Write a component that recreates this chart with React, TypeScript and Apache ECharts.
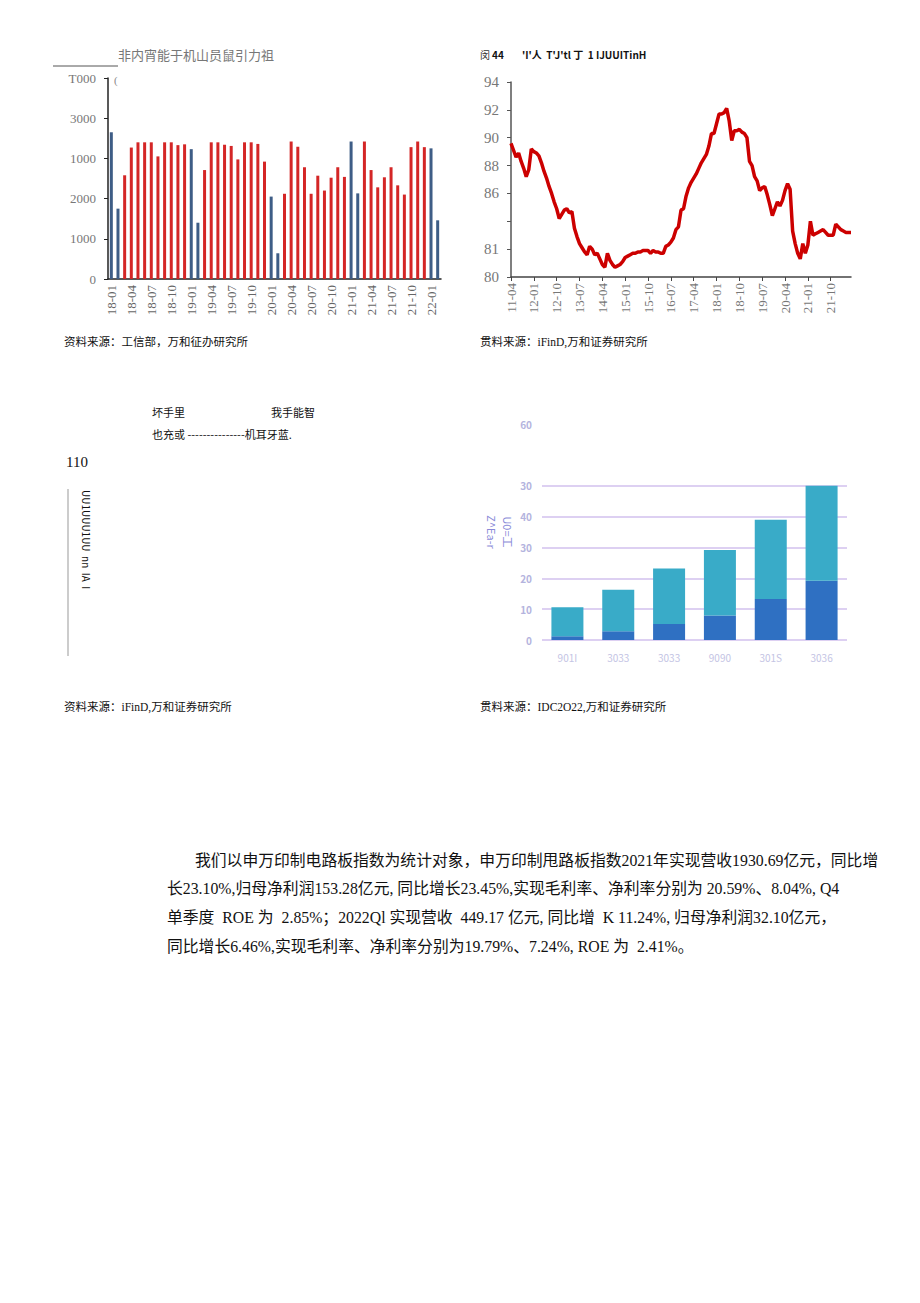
import React, { useEffect, useRef } from "react";
import * as echarts from "echarts";

// ---------- Left chart: monthly shipments ----------
const shipmentMonths: string[] = [];
for (let y = 18; y <= 22; y++) {
  for (let m = 1; m <= 12; m++) {
    if (y === 22 && m > 2) break;
    shipmentMonths.push(`${y}-${m < 10 ? "0" + m : m}`);
  }
}
const shipmentValues = [
  3650, 1750, 2580, 3270, 3400, 3400, 3400, 3050, 3400, 3400, 3330, 3350,
  3230, 1400, 2710, 3400, 3400, 3340, 3310, 2975, 3400, 3400, 3360, 2920,
  2050, 640, 2120, 3420, 3290, 2780, 2120, 2570, 2200, 2520, 2780, 2540,
  3420, 2130, 3420, 2710, 2280, 2530, 2780, 2330, 2100, 3280, 3420, 3280,
  3250, 1460,
];
const leftYTickLabels = ["0", "1000", "2000", "1000", "3000", "T000"];

// ---------- Right chart: index line ----------
const indexMonths: string[] = [];
for (let i = 0; i < 135; i++) {
  const t = 2011 * 12 + 3 + i;
  const yy = Math.floor(t / 12) % 100;
  const mm = (t % 12) + 1;
  indexMonths.push(`${yy}-${mm < 10 ? "0" + mm : mm}`);
}
const indexValues = [
  89.6, 89.1, 88.6, 88.9, 88.3, 87.8, 87.2, 87.7, 89.2, 89.0, 88.9, 88.7,
  88.2, 87.6, 87.1, 86.5, 86.0, 85.4, 84.9, 84.2, 84.5, 84.8, 84.9, 84.6,
  84.7, 83.5, 82.9, 82.4, 82.1, 81.8, 81.6, 82.2, 82.0, 81.6, 81.7, 81.3,
  80.9, 80.7, 81.7, 81.2, 80.9, 80.7, 80.8, 80.9, 81.1, 81.4, 81.5, 81.6,
  81.7, 81.7, 81.8, 81.8, 81.9, 81.9, 81.9, 81.7, 81.9, 81.8, 81.8, 81.7,
  81.7, 82.2, 82.3, 82.5, 82.8, 83.4, 83.6, 84.8, 84.9, 85.8, 86.4, 86.8,
  87.1, 87.4, 87.8, 88.2, 88.5, 88.8, 89.4, 90.3, 90.3, 91.0, 91.7, 91.7,
  91.8, 92.1, 91.2, 89.8, 90.5, 90.5, 90.6, 90.4, 90.3, 90.0, 88.3, 88.0,
  87.2, 86.9, 86.2, 86.4, 86.5, 85.9, 85.2, 84.4, 84.9, 85.4, 85.1, 85.5,
  86.2, 86.7, 86.3, 83.3, 82.4, 81.7, 81.3, 82.4, 81.7, 82.3, 84.0, 83.0,
  83.1, 83.2, 83.3, 83.4, 83.2, 83.0, 83.0, 83.0, 83.8, 83.6, 83.4, 83.3,
  83.2, 83.2, 83.2,
];
const rightYTickLabels: Record<number, string> = {
  80: "80", 82: "81", 84: "", 86: "86", 88: "88", 90: "90", 92: "92", 94: "94",
};

// ---------- Bottom-right chart: stacked bars ----------
const stackCategories = ["901I", "3033", "3033", "9090", "301S", "3036"];
const stackDark = [1.2, 2.8, 5.2, 7.9, 13.3, 19.2];
const stackLight = [9.4, 13.5, 18.0, 21.3, 25.7, 30.8];
const stackYTickLabels = ["0", "10", "20", "30", "40", "30", "", "60"];

// ---------- Texts ----------
const leftTitle = "非内宵能于机山员鼠引力祖";
const paragraphLines = [
  "我们以申万印制电路板指数为统计对象，申万印制甩路板指数2021年实现营收1930.69亿元，同比增",
  "长23.10%,归母净利润153.28亿元, 同比增长23.45%,实现毛利率、净利率分别为 20.59%、8.04%, Q4",
  "单季度  ROE 为  2.85%；2022Ql 实现营收  449.17 亿元, 同比增  K 11.24%, 归母净利润32.10亿元，",
  "同比增长6.46%,实现毛利率、净利率分别为19.79%、7.24%, ROE 为  2.41%。",
];

const SERIF = "'Liberation Serif', 'Noto Sans CJK SC', serif";
const CJK = "'Noto Sans CJK SC', sans-serif";

function txt(x: number, y: number, text: string, font: string, fill = "#000", extra: any = {}) {
  return {
    type: "text",
    x,
    y,
    ...extra,
    style: { text, font, fill, verticalAlign: "middle", textAlign: "left", ...(extra.style || {}) },
  };
}

export default function App() {
  const ref = useRef<HTMLDivElement>(null);
  useEffect(() => {
    if (!ref.current) return;
    const chart = echarts.init(ref.current, undefined, { renderer: "svg" });
    const blueMonth = (c: string) => c.endsWith("-01") || c.endsWith("-02");

    const option: any = {
      animation: false,
      backgroundColor: "#fff",
      grid: [
        { left: 108, top: 78, width: 333, height: 201 },
        { left: 511, top: 82, width: 340, height: 195 },
        { left: 542, top: 424, width: 305, height: 216 },
      ],
      xAxis: [
        {
          type: "category",
          gridIndex: 0,
          data: shipmentMonths,
          axisLine: { lineStyle: { color: "#222", width: 1.5 } },
          axisTick: { interval: (i: number) => i % 3 === 0, alignWithLabel: true, length: 4, lineStyle: { color: "#222" } },
          axisLabel: {
            interval: (i: number) => i % 3 === 0,
            rotate: 90,
            margin: 6,
            color: "#666",
            fontFamily: SERIF,
            fontSize: 13,
          },
        },
        {
          type: "category",
          gridIndex: 1,
          data: indexMonths,
          boundaryGap: false,
          axisLine: { lineStyle: { color: "#444", width: 1.5 } },
          axisTick: { interval: 8, length: 4, lineStyle: { color: "#444" } },
          axisLabel: { interval: 8, rotate: 90, margin: 6, color: "#777", fontFamily: SERIF, fontSize: 13 },
        },
        {
          type: "category",
          gridIndex: 2,
          data: stackCategories,
          axisLine: { show: false },
          axisTick: { show: false },
          axisLabel: { margin: 12, color: "#c4c4e4", fontFamily: CJK, fontSize: 10 },
        },
      ],
      yAxis: [
        {
          type: "value",
          gridIndex: 0,
          min: 0,
          max: 5000,
          interval: 1000,
          axisLine: { show: true, lineStyle: { color: "#222", width: 1.5 } },
          axisTick: { show: true, length: 4, lineStyle: { color: "#222" } },
          splitLine: { show: false },
          axisLabel: {
            margin: 12,
            color: "#777",
            fontFamily: SERIF,
            fontSize: 13,
            formatter: (v: number) => leftYTickLabels[Math.round(v / 1000)] ?? "",
          },
        },
        {
          type: "value",
          gridIndex: 1,
          min: 80,
          max: 94,
          interval: 2,
          axisLine: { show: true, lineStyle: { color: "#555", width: 1.5 } },
          axisTick: { show: true, length: 4, lineStyle: { color: "#555" } },
          splitLine: { show: false },
          axisLabel: {
            margin: 12,
            color: "#777",
            fontFamily: SERIF,
            fontSize: 15,
            formatter: (v: number) => rightYTickLabels[Math.round(v)] ?? "",
          },
        },
        {
          type: "value",
          gridIndex: 2,
          min: 0,
          max: 70,
          interval: 10,
          axisLine: { show: false },
          axisTick: { show: false },
          splitLine: {
            show: true,
            lineStyle: {
              width: 2,
              color: ["#ddd0f2", "#ddd0f2", "#ddd0f2", "#ddd0f2", "#ddd0f2", "#ddd0f2", "rgba(0,0,0,0)", "rgba(0,0,0,0)"],
            },
          },
          axisLabel: {
            margin: 10,
            color: "#b4b4de",
            fontFamily: CJK,
            fontSize: 10,
            fontWeight: "bold",
            formatter: (v: number) => stackYTickLabels[Math.round(v / 10)] ?? "",
          },
          name: "U0=工\nZ^Ea-r",
          nameLocation: "middle",
          nameRotate: -90,
          nameGap: 16,
          nameTextStyle: { color: "#8a8ad8", fontFamily: CJK, fontSize: 11, lineHeight: 16 },
        },
      ],
      series: [
        {
          type: "bar",
          xAxisIndex: 0,
          yAxisIndex: 0,
          barWidth: 3,
          data: shipmentValues.map((v, i) => ({
            value: v,
            itemStyle: { color: blueMonth(shipmentMonths[i]) ? "#3e5d86" : "#d42626" },
          })),
        },
        {
          type: "line",
          xAxisIndex: 1,
          yAxisIndex: 1,
          data: indexValues,
          showSymbol: false,
          symbol: "none",
          lineStyle: { color: "#cc0000", width: 3.5 },
        },
        {
          type: "bar",
          xAxisIndex: 2,
          yAxisIndex: 2,
          stack: "s",
          barWidth: 32,
          data: stackDark,
          itemStyle: { color: "#2f70c2" },
        },
        {
          type: "bar",
          xAxisIndex: 2,
          yAxisIndex: 2,
          stack: "s",
          barWidth: 32,
          data: stackLight,
          itemStyle: { color: "#39abc8" },
        },
      ],
      graphic: [
        // left chart title and decoration
        txt(118, 54, leftTitle, `13px ${CJK}`, "#777"),
        { type: "line", shape: { x1: 53, y1: 66, x2: 118, y2: 66 }, style: { stroke: "#555", lineWidth: 1 } },
        txt(114, 80, "(", `11px ${SERIF}`, "#888"),
        // right chart title
        txt(480, 54, "闵", `10px ${CJK}`, "#333"),
        txt(492, 54, "44", `bold 10px ${CJK}`, "#111"),
        txt(522, 54, "'I'人  T'J'tl 丁  1 IJUUITinH", `bold 10px ${CJK}`, "#111"),
        // sources
        txt(64, 342, "资料来源：工信部，万和征办研究所", `11.5px ${SERIF}`, "#111"),
        txt(480, 342, "贯料来源：iFinD,万和证券研究所", `11.5px ${SERIF}`, "#111"),
        txt(64, 707, "资料来源：iFinD,万和证券研究所", `11.5px ${SERIF}`, "#111"),
        txt(480, 707, "贯料来源：IDC2O22,万和证券研究所", `11.5px ${SERIF}`, "#111"),
        // middle-left panel
        txt(152, 412, "坏手里", `11px ${CJK}`, "#111"),
        txt(271, 412, "我手能智", `11px ${CJK}`, "#111"),
        txt(152, 434, "也充或 ---------------机耳牙蓝.", `11px ${CJK}`, "#111"),
        txt(66, 462, "110", `15px ${SERIF}`, "#111"),
        { type: "line", shape: { x1: 68, y1: 489, x2: 68, y2: 656 }, style: { stroke: "#999", lineWidth: 1 } },
        txt(86, 490, "UU1UUU1UU  nn  IA  I", `10px ${CJK}`, "#111", {
          rotation: -Math.PI / 2,
          style: { verticalAlign: "middle", textAlign: "left" },
        }),
        // paragraph
        txt(195, 860, paragraphLines[0], `15.8px ${SERIF}`, "#111"),
        txt(167, 888, paragraphLines[1], `15.8px ${SERIF}`, "#111"),
        txt(167, 917, paragraphLines[2], `15.8px ${SERIF}`, "#111"),
        txt(167, 946, paragraphLines[3], `15.8px ${SERIF}`, "#111"),
      ],
    };
    chart.setOption(option);
    return () => chart.dispose();
  }, []);
  return (
    <div
      ref={ref}
      style={{ position: "absolute", left: 0, top: 0, width: 920, height: 1303, background: "#fff" }}
    />
  );
}
